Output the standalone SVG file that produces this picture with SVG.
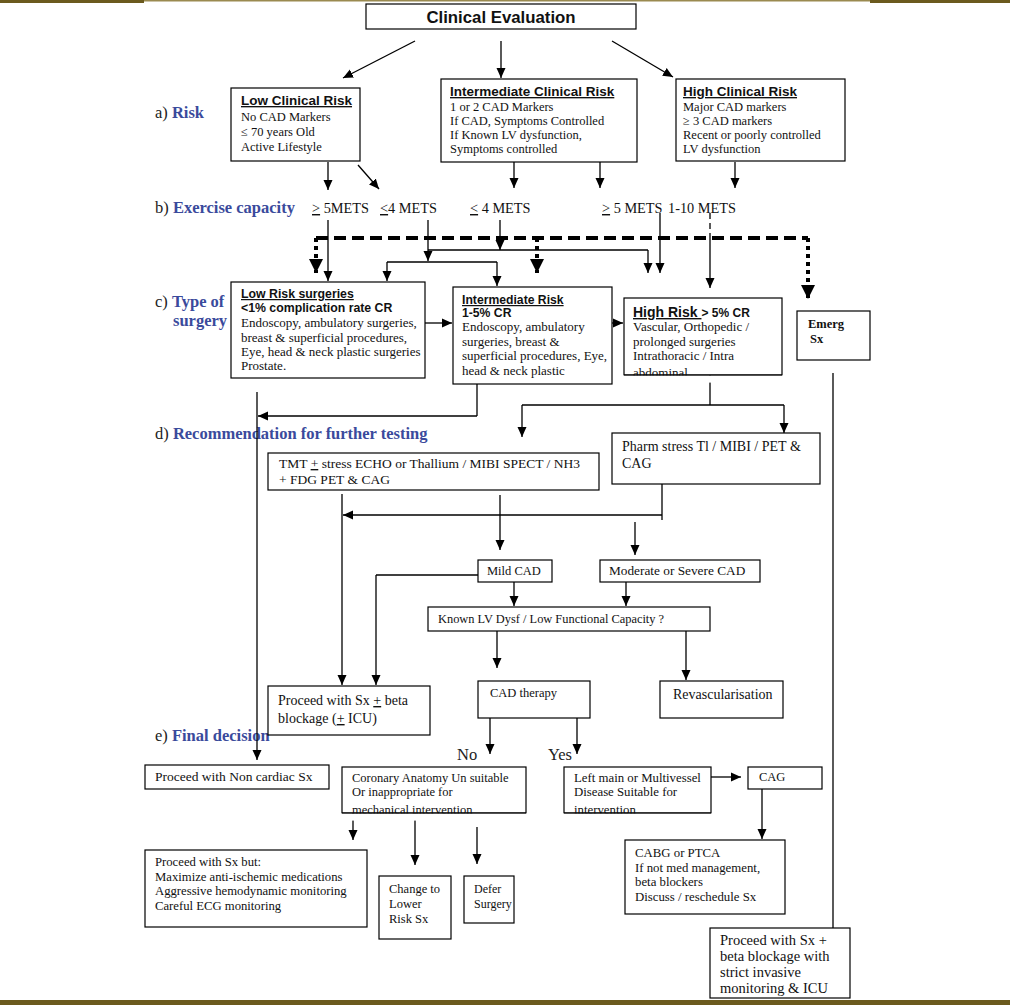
<svg xmlns="http://www.w3.org/2000/svg" width="1010" height="1005" viewBox="0 0 1010 1005">
<style>
.bx{fill:#fff;stroke:#000;stroke-width:1.2}
.t{font-family:"Liberation Serif",serif;font-size:12.5px;fill:#111}
.tl{font-family:"Liberation Serif",serif;font-size:14px;fill:#111}
.h{font-family:"Liberation Sans",Arial,sans-serif;font-weight:bold;font-size:13.5px;fill:#111}
.hu{font-family:"Liberation Sans",Arial,sans-serif;font-weight:bold;font-size:13.5px;fill:#111;text-decoration:underline}
.lab{font-family:"Liberation Serif",serif;font-size:16.5px;fill:#222}
.lb{font-weight:bold;fill:#3a4a9c}
.m{font-family:"Liberation Serif",serif;font-size:14.3px;fill:#111}
.ln{fill:none;stroke:#000;stroke-width:1.3}
.ar{fill:none;stroke:#000;stroke-width:1.3;marker-end:url(#a)}
.dash{fill:none;stroke:#000;stroke-width:4;stroke-dasharray:12,6}
.dot{fill:none;stroke:#000;stroke-width:4;stroke-dasharray:4,4;marker-end:url(#b)}
</style>
<defs>
<marker id="a" markerUnits="userSpaceOnUse" markerWidth="10" markerHeight="10" viewBox="0 0 10 10" refX="10" refY="5" orient="auto"><path d="M0,0.5 L10,5 L0,9.5 z" fill="#000"/></marker>
<marker id="b" markerUnits="userSpaceOnUse" markerWidth="14" markerHeight="14" viewBox="0 0 14 14" refX="14" refY="7" orient="auto"><path d="M0,0 L14,7 L0,14 z" fill="#000"/></marker>
</defs>
<rect width="1010" height="1005" fill="#fff"/>
<!-- frame bars -->
<rect x="0" y="0" width="1010" height="1.5" fill="#9a8a50"/>
<rect x="0" y="0" width="144" height="3" fill="#6b5a1e"/>
<rect x="870" y="0" width="140" height="3" fill="#6b5a1e"/>
<rect x="0" y="1000" width="1010" height="5" fill="#6b5a1e"/>

<!-- section labels -->
<text class="lab" x="155" y="118">a) <tspan class="lb">Risk</tspan></text>
<text class="lab" x="155" y="213">b) <tspan class="lb">Exercise capacity</tspan></text>
<text class="lab" x="155" y="307">c) <tspan class="lb">Type of</tspan></text>
<text class="lab lb" x="173" y="326">surgery</text>
<text class="lab" x="155" y="439">d) <tspan class="lb">Recommendation for further testing</tspan></text>
<text class="lab" x="155" y="741">e) <tspan class="lb">Final decision</tspan></text>

<!-- METS labels -->
<text class="m" x="312" y="213"><tspan text-decoration="underline">&gt;</tspan> 5METS</text>
<text class="m" x="380" y="213"><tspan text-decoration="underline">&lt;</tspan>4 METS</text>
<text class="m" x="470" y="213"><tspan text-decoration="underline">&lt;</tspan>  4 METS</text>
<text class="m" x="602" y="213"><tspan text-decoration="underline">&gt;</tspan> 5 METS</text>
<text class="m" x="668" y="213">1-10 METS</text>

<!-- connectors -->
<g id="connectors">
<path class="ar" d="M415,41 L343,78"/>
<path class="ar" d="M501,41 L501,78"/>
<path class="ar" d="M612,41 L673,77"/>
<path class="ar" d="M328,162 L328,190"/>
<path class="ar" d="M358,165 L379,189"/>
<path class="ar" d="M514,162 L514,188"/>
<path class="ar" d="M600,162 L600,188"/>
<path class="ar" d="M735,162 L735,188"/>
<!-- dashed emergency -->
<path class="dash" d="M316,238 L808,238"/>
<path class="ln" stroke-width="3" stroke-dasharray="6,4" d="M710,213 L710,238"/>
<path class="dot" d="M316,238 L316,273"/>
<path class="dot" d="M537,238 L537,273"/>
<path class="dot" d="M808,238 L808,299"/>
<!-- METS to surgery -->
<path class="ar" d="M328,220 L328,281"/>
<path class="ar" d="M428,220 L428,261"/>
<path class="ln" d="M387,262 L497,262"/>
<path class="ar" d="M387,262 L387,281"/>
<path class="ar" d="M497,262 L497,286"/>
<path class="ln" d="M428,250 L648,250"/>
<path class="ar" d="M648,250 L648,273"/>
<path class="ar" d="M500,220 L500,250"/>
<path class="ar" d="M660,213 L660,273"/>
<path class="ar" d="M710,238 L710,288"/>
<!-- between surgery boxes -->
<path class="ar" stroke-width="2" d="M425,323 L452,323"/>
<path class="ar" d="M612,323 L623,323"/>
<!-- emerg line -->
<path class="ln" stroke="#555" stroke-width="1" d="M833,373 L833,928"/>
<!-- surgery to testing -->
<path class="ar" d="M257,392 L257,760"/>
<path class="ln" d="M477,384 L477,416"/>
<path class="ar" d="M477,416 L258,416"/>
<path class="ln" d="M710,375 L710,405"/>
<path class="ln" d="M522,405 L784,405"/>
<path class="ar" d="M522,405 L522,437"/>
<path class="ar" d="M784,405 L784,433"/>
<!-- testing down -->
<path class="ar" d="M342,494 L342,685"/>
<path class="ln" d="M662,484 L662,520"/>
<path class="ar" d="M662,515 L343,515"/>
<path class="ar" d="M500,495 L500,550"/>
<path class="ar" d="M635,522 L635,555"/>
<path class="ln" d="M478,575 L376,575"/>
<path class="ar" d="M376,575 L376,685"/>
<path class="ar" d="M514,582 L514,606"/>
<path class="ar" d="M626,582 L626,606"/>
<path class="ar" d="M497,631 L497,668"/>
<path class="ar" stroke-width="1.8" d="M686,631 L686,680"/>
<path class="ar" stroke-width="1.8" d="M490,718 L490,754"/>
<path class="ar" stroke-width="1.8" d="M577,718 L577,754"/>
<path class="ar" d="M711,777 L741,777"/>
<path class="ar" stroke-width="1.8" d="M762,789 L762,839"/>
<path class="ar" d="M353,813 L353,840"/>
<path class="ar" stroke-width="1.8" d="M415,813 L415,865"/>
<path class="ar" d="M477,827 L477,864"/>
</g>

<!-- nodes -->
<g id="clinical-evaluation"><rect class="bx" x="366" y="4" width="270" height="25"/><text class="h" x="501" y="23" text-anchor="middle" style="font-size:16.8px">Clinical Evaluation</text></g>

<g id="low-clinical-risk"><rect class="bx" x="231" y="88" width="129" height="73"/>
<text class="hu" x="241" y="105">Low Clinical Risk</text>
<text class="t" x="241" y="121">No CAD Markers</text>
<text class="t" x="241" y="136">≤ 70 years Old</text>
<text class="t" x="241" y="151">Active Lifestyle</text></g>

<g id="intermediate-clinical-risk"><rect class="bx" x="441" y="79" width="196" height="83"/>
<text class="hu" x="450" y="96">Intermediate Clinical Risk</text>
<text class="t" x="450" y="111">1 or 2 CAD Markers</text>
<text class="t" x="450" y="125">If CAD, Symptoms Controlled</text>
<text class="t" x="450" y="139">If Known LV dysfunction,</text>
<text class="t" x="450" y="153">Symptoms controlled</text></g>

<g id="high-clinical-risk"><rect class="bx" x="676" y="79" width="169" height="82"/>
<text class="hu" x="683" y="96">High Clinical Risk</text>
<text class="t" x="683" y="111">Major CAD markers</text>
<text class="t" x="683" y="125">≥ 3 CAD markers</text>
<text class="t" x="683" y="139">Recent or poorly controlled</text>
<text class="t" x="683" y="153">LV dysfunction</text></g>

<g id="low-risk-surgeries"><rect class="bx" x="231" y="282" width="194" height="96"/>
<text class="hu" x="241" y="298" style="font-size:12.3px">Low Risk surgeries</text>
<text class="h" x="241" y="312" style="font-size:12.3px">&lt;1% complication rate CR</text>
<text class="t" x="241" y="327" style="font-size:13px">Endoscopy, ambulatory surgeries,</text>
<text class="t" x="241" y="342" style="font-size:13px">breast &amp; superficial procedures,</text>
<text class="t" x="241" y="356" style="font-size:13px">Eye, head &amp; neck plastic surgeries</text>
<text class="t" x="241" y="370" style="font-size:13px">Prostate.</text></g>

<g id="intermediate-risk"><rect class="bx" x="453" y="287" width="159" height="97"/>
<text class="hu" x="462" y="304" style="font-size:12.2px">Intermediate Risk</text>
<text class="h" x="462" y="317" style="font-size:12.2px">1-5% CR</text>
<text class="t" x="462" y="331" style="font-size:13px">Endoscopy, ambulatory</text>
<text class="t" x="462" y="346" style="font-size:13px">surgeries, breast &amp;</text>
<text class="t" x="462" y="360" style="font-size:13px">superficial procedures, Eye,</text>
<text class="t" x="462" y="375" style="font-size:13px">head &amp; neck plastic</text></g>

<g id="high-risk"><rect class="bx" x="624" y="298" width="158" height="77"/>
<text class="h" x="633" y="317" style="font-size:14px"><tspan text-decoration="underline">High Risk  </tspan><tspan style="font-size:12px">&gt; 5% CR</tspan></text>
<text class="t" x="633" y="331" style="font-size:13px">Vascular, Orthopedic /</text>
<text class="t" x="633" y="346" style="font-size:13px">prolonged surgeries</text>
<text class="t" x="633" y="360" style="font-size:13px">Intrathoracic / Intra</text>
<text class="t" x="633" y="377" style="font-size:13px">abdominal</text>
<rect x="623" y="375.6" width="160" height="7" fill="#fff"/>
<line x1="624" y1="375" x2="782" y2="375" stroke="#000" stroke-width="1.2"/></g>

<g id="emerg-sx"><rect class="bx" x="797" y="311" width="73" height="49"/>
<text class="t" x="808" y="328" font-weight="bold">Emerg</text>
<text class="t" x="810" y="343" font-weight="bold">Sx</text></g>

<g id="tmt"><rect class="bx" x="268" y="453" width="331" height="37"/>
<text class="t" x="279" y="468" style="font-size:13.5px">TMT <tspan text-decoration="underline">+</tspan> stress ECHO or Thallium / MIBI SPECT / NH3</text>
<text class="t" x="279" y="484" style="font-size:13.5px">+ FDG PET &amp; CAG</text></g>

<g id="pharm"><rect class="bx" x="612" y="433" width="208" height="51"/>
<text class="tl" x="622" y="451">Pharm stress Tl / MIBI / PET &amp;</text>
<text class="tl" x="622" y="468">CAG</text></g>

<g id="mild-cad"><rect class="bx" x="478" y="560" width="74" height="22"/>
<text class="t" x="487" y="575">Mild CAD</text></g>

<g id="moderate-cad"><rect class="bx" x="600" y="560" width="160" height="22"/>
<text class="t" x="609" y="575" style="font-size:13.3px">Moderate or Severe CAD</text></g>

<g id="known-lv"><rect class="bx" x="428" y="607" width="282" height="24"/>
<text class="t" x="438" y="623" style="font-size:12.4px">Known LV Dysf / Low Functional Capacity ?</text></g>

<g id="proceed-beta"><rect class="bx" x="268" y="686" width="162" height="49"/>
<text class="tl" x="278" y="705">Proceed with Sx <tspan text-decoration="underline">+</tspan> beta</text>
<text class="tl" x="278" y="723">blockage (<tspan text-decoration="underline">+</tspan> ICU)</text></g>

<g id="cad-therapy"><rect class="bx" x="478" y="681" width="112" height="37"/>
<text class="t" x="490" y="697">CAD therapy</text></g>

<g id="revasc"><rect class="bx" x="660" y="681" width="123" height="37"/>
<text class="tl" x="673" y="699">Revascularisation</text></g>

<text class="lab" x="457" y="760">No</text>
<text class="lab" x="548" y="760">Yes</text>

<g id="non-cardiac"><rect class="bx" x="145" y="765" width="184" height="24"/>
<text class="t" x="155" y="781" style="font-size:13.5px">Proceed with Non cardiac Sx</text></g>

<g id="coronary-anatomy"><rect class="bx" x="342" y="767" width="184" height="46"/>
<text class="t" x="352" y="782">Coronary Anatomy Un suitable</text>
<text class="t" x="352" y="796">Or inappropriate for</text>
<text class="t" x="352" y="814">mechanical intervention</text>
<rect x="341" y="813.6" width="186" height="7" fill="#fff"/>
<line x1="342" y1="813" x2="526" y2="813" stroke="#000" stroke-width="1.2"/></g>

<g id="left-main"><rect class="bx" x="564" y="767" width="147" height="46"/>
<text class="t" x="574" y="782" style="font-size:12.8px">Left main or Multivessel</text>
<text class="t" x="574" y="796" style="font-size:12.8px">Disease Suitable for</text>
<text class="t" x="574" y="814" style="font-size:12.8px">intervention</text>
<rect x="563" y="813.6" width="149" height="7" fill="#fff"/>
<line x1="564" y1="813" x2="711" y2="813" stroke="#000" stroke-width="1.2"/></g>

<g id="cag"><rect class="bx" x="748" y="767" width="74" height="22"/>
<text class="t" x="759" y="781">CAG</text></g>

<g id="proceed-but"><rect class="bx" x="145" y="850" width="222" height="77"/>
<text class="t" x="155" y="866" style="font-size:12.7px">Proceed with Sx but:</text>
<text class="t" x="155" y="881" style="font-size:12.7px">Maximize anti-ischemic medications</text>
<text class="t" x="155" y="895" style="font-size:12.7px">Aggressive hemodynamic monitoring</text>
<text class="t" x="155" y="910" style="font-size:12.7px">Careful ECG monitoring</text></g>

<g id="change-lower"><rect class="bx" x="379" y="876" width="72" height="63"/>
<text class="t" x="389" y="893">Change to</text>
<text class="t" x="389" y="908">Lower</text>
<text class="t" x="389" y="923">Risk  Sx</text></g>

<g id="defer"><rect class="bx" x="464" y="876" width="50" height="47"/>
<text class="t" x="474" y="893" style="font-size:12px">Defer</text>
<text class="t" x="474" y="908" style="font-size:12px">Surgery</text></g>

<g id="cabg"><rect class="bx" x="625" y="840" width="160" height="74"/>
<text class="t" x="635" y="857" style="font-size:12.8px">CABG or PTCA</text>
<text class="t" x="635" y="872" style="font-size:12.8px">If not med management,</text>
<text class="t" x="635" y="886" style="font-size:12.8px">beta blockers</text>
<text class="t" x="635" y="901" style="font-size:12.8px">Discuss / reschedule Sx</text></g>

<g id="proceed-icu"><rect class="bx" x="710" y="928" width="140" height="70"/>
<text class="tl" x="720" y="945" style="font-size:14.5px">Proceed with Sx +</text>
<text class="tl" x="720" y="961" style="font-size:14.5px">beta blockage with</text>
<text class="tl" x="720" y="977" style="font-size:14.5px">strict invasive</text>
<text class="tl" x="720" y="993" style="font-size:14.5px">monitoring &amp; ICU</text></g>
</svg>
